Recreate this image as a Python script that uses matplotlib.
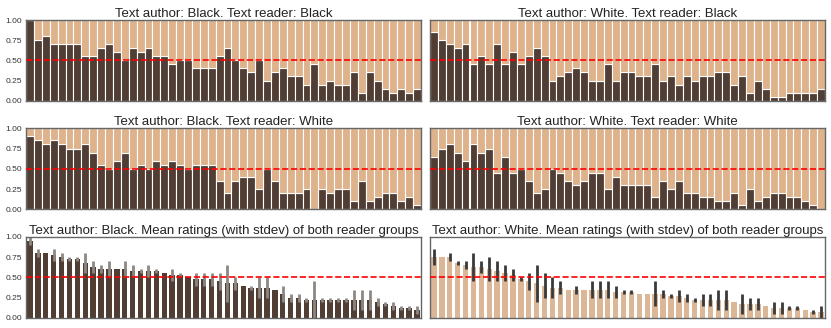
import numpy as np
import matplotlib
matplotlib.use("Agg")
import matplotlib.pyplot as plt

plt.rcParams['font.family'] = ['Liberation Sans', 'DejaVu Sans']

# Share of readers rating "yes" per text (50 texts)
black_author_black_reader = [1.00, 0.75, 0.80, 0.70, 0.70, 0.70, 0.70, 0.55, 0.55, 0.65,
                             0.70, 0.60, 0.50, 0.65, 0.60, 0.65, 0.55, 0.55, 0.45, 0.50,
                             0.50, 0.40, 0.40, 0.40, 0.55, 0.65, 0.50, 0.40, 0.35, 0.50,
                             0.25, 0.35, 0.40, 0.30, 0.30, 0.20, 0.45, 0.20, 0.25, 0.20,
                             0.20, 0.35, 0.10, 0.35, 0.25, 0.15, 0.10, 0.15, 0.10, 0.15]
black_author_white_reader = [0.90, 0.85, 0.80, 0.85, 0.80, 0.75, 0.75, 0.80, 0.70, 0.55,
                             0.50, 0.60, 0.70, 0.50, 0.55, 0.50, 0.60, 0.55, 0.60, 0.55,
                             0.50, 0.55, 0.55, 0.55, 0.35, 0.20, 0.35, 0.40, 0.40, 0.25,
                             0.50, 0.35, 0.20, 0.20, 0.20, 0.25, 0.00, 0.25, 0.20, 0.25,
                             0.25, 0.10, 0.35, 0.10, 0.15, 0.20, 0.20, 0.10, 0.15, 0.05]
white_author_black_reader = [0.85, 0.75, 0.70, 0.65, 0.70, 0.45, 0.55, 0.45, 0.70, 0.45,
                             0.60, 0.45, 0.55, 0.65, 0.55, 0.25, 0.30, 0.35, 0.40, 0.35,
                             0.25, 0.25, 0.45, 0.25, 0.35, 0.35, 0.30, 0.30, 0.45, 0.25,
                             0.30, 0.20, 0.30, 0.25, 0.30, 0.30, 0.35, 0.35, 0.20, 0.30,
                             0.10, 0.25, 0.15, 0.05, 0.05, 0.10, 0.10, 0.10, 0.10, 0.15]
white_author_white_reader = [0.65, 0.75, 0.80, 0.70, 0.60, 0.80, 0.70, 0.75, 0.45, 0.65,
                             0.45, 0.50, 0.35, 0.20, 0.25, 0.50, 0.45, 0.35, 0.30, 0.35,
                             0.45, 0.45, 0.25, 0.40, 0.30, 0.30, 0.30, 0.30, 0.15, 0.35,
                             0.25, 0.35, 0.20, 0.20, 0.15, 0.15, 0.10, 0.10, 0.20, 0.05,
                             0.25, 0.10, 0.15, 0.20, 0.20, 0.15, 0.15, 0.10, 0.05, 0.00]

titles = ["Text author: Black. Text reader: Black",
          "Text author: White. Text reader: Black",
          "Text author: Black. Text reader: White",
          "Text author: White. Text reader: White",
          "Text author: Black. Mean ratings (with stdev) of both reader groups",
          "Text author: White. Mean ratings (with stdev) of both reader groups"]
yticks = [0.00, 0.25, 0.50, 0.75, 1.00]

DARK = "#503d34"
TAN = "#deb28b"
TAN2 = "#dbb697"

fig = plt.figure(figsize=(8.31, 3.28), dpi=100)
lefts = [26 / 831, 430 / 831]
w = 395 / 831
rows = [(0.693, 0.939), (0.362, 0.609), (0.0305, 0.278)]

def style(ax, show_y):
    ax.set_xlim(-0.5, 49.5)
    ax.set_ylim(0, 1)
    ax.set_xticks([])
    ax.set_yticks(yticks)
    if show_y:
        ax.set_yticklabels([f"{t:.2f}" for t in yticks], fontsize=6, color="#333333")
    else:
        ax.set_yticklabels([])
    ax.tick_params(axis='y', length=0, pad=3)
    for s in ax.spines.values():
        s.set_color("#666666")
        s.set_linewidth(1.0)
    ax.axhline(0.5, color="red", ls="--", lw=1.2, zorder=5)

series = [black_author_black_reader, white_author_black_reader,
          black_author_white_reader, white_author_white_reader]
x = np.arange(50)
for i, vals in enumerate(series):
    r, c = divmod(i, 2)
    b, t = rows[r]
    ax = fig.add_axes([lefts[c], b, w, t - b])
    v = np.array(vals)
    ax.bar(x, v, width=1.0, color=DARK, edgecolor="white", linewidth=0.8)
    ax.bar(x, 1 - v, bottom=v, width=1.0, color=TAN, edgecolor="white", linewidth=0.8)
    style(ax, c == 0)
    ax.set_title(titles[i], fontsize=9.5, color="#222222", pad=2)

pairs = [(black_author_black_reader, black_author_white_reader, DARK, "#8c8783"),
         (white_author_black_reader, white_author_white_reader, TAN2, "#3a3a3a")]
b, t = rows[2]
for c, (a1, a2, bc, ec) in enumerate(pairs):
    ax = fig.add_axes([lefts[c], b, w, t - b])
    arr = np.vstack([a1, a2])
    m = arr.mean(axis=0)
    sd = arr.std(axis=0)
    ax.bar(x, m, width=0.68, color=bc, yerr=sd,
           error_kw=dict(ecolor=ec, elinewidth=2.0, capsize=0))
    style(ax, c == 0)
    ax.set_title(titles[4 + c], fontsize=9.5, color="#222222", pad=2)

fig.savefig("out.png", dpi=100)
